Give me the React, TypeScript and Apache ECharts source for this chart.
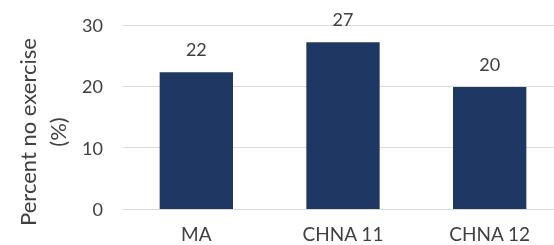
import React, { useEffect, useRef } from "react";
import * as echarts from "echarts";

const categories = ["MA", "CHNA 11", "CHNA 12"];
const values = [22.3, 27.2, 19.9];
const yTicks = { min: 0, max: 30, interval: 10 };
const yNameLines = ["Percent no exercise", "(%)"];

const FONT = "Lato, 'Open Sans', sans-serif";
const TEXT = "#404040";

export default function App() {
  const ref = useRef<HTMLDivElement>(null);
  useEffect(() => {
    if (!ref.current) return;
    const chart = echarts.init(ref.current, undefined, { renderer: "svg" });
    chart.setOption({
      animation: false,
      grid: { left: 123, right: 0, top: 25, bottom: 36, containLabel: false },
      xAxis: {
        type: "category",
        data: categories,
        axisLine: { show: false },
        axisTick: { show: false },
        axisLabel: { color: TEXT, fontFamily: FONT, fontSize: 19, lineHeight: 19, margin: 15 },
      },
      yAxis: {
        type: "value",
        min: yTicks.min,
        max: yTicks.max,
        interval: yTicks.interval,
        axisLine: { show: false },
        axisTick: { show: false },
        axisLabel: { color: TEXT, fontFamily: FONT, fontSize: 18, margin: 20 },
        splitLine: { lineStyle: { color: "#d9d9d9", width: 1 } },
      },
      graphic: [
        {
          type: "text",
          x: 27,
          y: 132,
          rotation: Math.PI / 2,
          style: {
            text: yNameLines[0],
            fill: TEXT,
            font: `22px ${FONT}`,
            textAlign: "center",
            textVerticalAlign: "middle",
          },
        },
        {
          type: "text",
          x: 57,
          y: 132,
          rotation: Math.PI / 2,
          style: {
            text: yNameLines[1],
            fill: TEXT,
            font: `22px ${FONT}`,
            textAlign: "center",
            textVerticalAlign: "middle",
          },
        },
      ],
      series: [
        {
          type: "bar",
          data: values,
          barWidth: "50%",
          itemStyle: { color: "#1f3763" },
          label: {
            show: true,
            position: "top",
            distance: 14,
            color: TEXT,
            fontFamily: FONT,
            fontSize: 18,
            formatter: (p: any) => String(Math.round(p.value)),
          },
        },
      ],
    });
    return () => chart.dispose();
  }, []);
  return (
    <div style={{ position: "fixed", left: 0, top: 0, width: 554, height: 245, overflow: "hidden" }}>
      <div ref={ref} style={{ width: 563, height: 245 }} />
    </div>
  );
}
